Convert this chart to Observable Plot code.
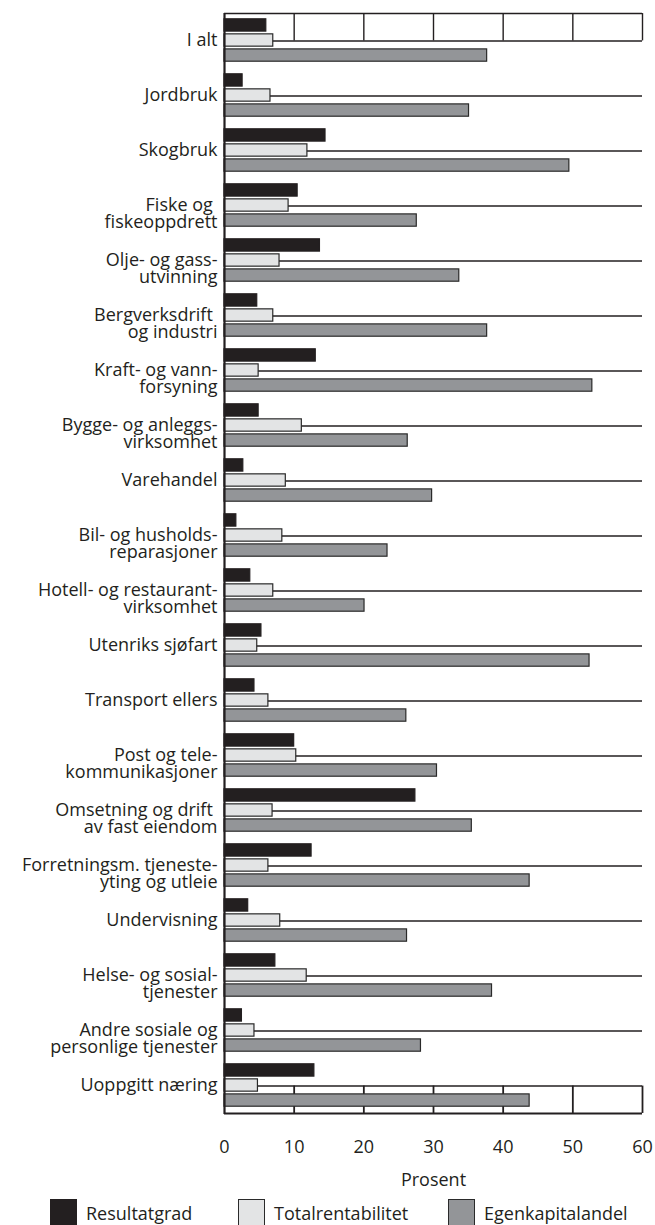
<!DOCTYPE html>
<html><head><meta charset="utf-8">
<script src="https://cdn.jsdelivr.net/npm/d3@7"></script>
<script src="https://cdn.jsdelivr.net/npm/@observablehq/plot@0.6"></script>
<style>
body{margin:0;background:#fff;font-family:"Open Sans",sans-serif;color:#231f20;}
#chart svg{display:block;}
#legend{position:relative;height:30px;width:655px;font-size:18px;}
.item{position:absolute;top:4px;display:flex;align-items:center;height:27px;white-space:nowrap;}
.sw{width:27px;height:27px;box-sizing:border-box;margin-right:9px;}
</style></head><body>
<div id="chart"></div>
<div id="legend"></div>
<script>
const categories = [
  "I alt",
  "Jordbruk",
  "Skogbruk",
  "Fiske og\u00a0\nfiskeoppdrett",
  "Olje- og gass-\nutvinning",
  "Bergverksdrift\u00a0\nog industri",
  "Kraft- og vann-\nforsyning",
  "Bygge- og anleggs-\nvirksomhet",
  "Varehandel",
  "Bil- og husholds-\nreparasjoner",
  "Hotell- og restaurant-\nvirksomhet",
  "Utenriks sjøfart",
  "Transport ellers",
  "Post og tele-\nkommunikasjoner",
  "Omsetning og drift\u00a0\nav fast eiendom",
  "Forretningsm. tjeneste-\nyting og utleie",
  "Undervisning",
  "Helse- og sosial-\ntjenester",
  "Andre sosiale og\npersonlige tjenester",
  "Uoppgitt næring"
];
const series = ["Resultatgrad", "Totalrentabilitet", "Egenkapitalandel"];
const resultatgrad      = [6.0, 2.6, 14.5, 10.5, 13.7, 4.7, 13.1, 4.9, 2.7, 1.7, 3.7, 5.3, 4.3, 10.0, 27.4, 12.5, 3.4, 7.3, 2.5, 12.9];
const totalrentabilitet = [7.0, 6.6, 11.9, 9.2, 7.9, 7.0, 4.9, 11.1, 8.8, 8.3, 7.0, 4.7, 6.3, 10.3, 6.9, 6.3, 8.0, 11.8, 4.3, 4.8];
const egenkapitalandel  = [37.7, 35.1, 49.5, 27.6, 33.7, 37.7, 52.8, 26.3, 29.8, 23.4, 20.1, 52.4, 26.1, 30.5, 35.5, 43.8, 26.2, 38.4, 28.2, 43.8];
const xTicks = [0, 10, 20, 30, 40, 50, 60];
const xLabel = "Prosent";

const colors = ["#231f20", "#e3e4e5", "#939598"];
const values = [resultatgrad, totalrentabilitet, egenkapitalandel];
const rows = categories.flatMap((c, i) => series.map((s, j) => ({category: c, series: s, value: values[j][i]})));

const W = 655, H = 1195, mTop = 13, mBottom = 81, mLeft = 224, mRight = 13;
const pInner = 0.18, pOuter = 0.09;
const yScale = Plot.scale({y: {type: "band", domain: categories, range: [mTop, H - mBottom], paddingInner: pInner, paddingOuter: pOuter}});
const bw = yScale.bandwidth;
const step = yScale.step;
const outerPx = step * pOuter;
const slot = bw / 3;
const ink = "#231f20";

const bars = series.map((s, j) => Plot.barX(rows.filter(d => d.series === s), {
  x: "value", y: "category",
  fill: colors[j], stroke: j === 0 ? colors[0] : "#2a2a2a", strokeWidth: 1.2,
  insetTop: j * slot + 0.8, insetBottom: (2 - j) * slot + 1.8
}));

const plot = Plot.plot({
  width: W, height: H,
  marginTop: mTop, marginBottom: mBottom, marginLeft: mLeft, marginRight: mRight,
  style: {fontFamily: "'Open Sans', sans-serif", fontSize: "18px", color: ink, background: "white"},
  x: {domain: [0, 60], ticks: xTicks, tickSize: 0, tickPadding: 26, label: null},
  y: {domain: categories, paddingInner: pInner, paddingOuter: pOuter, axis: null},
  marks: [
    // vertical grid segments in first and last rows
    Plot.ruleX(xTicks.slice(1), {x: d => d, y1: () => categories[0], y2: () => categories[0], insetTop: -outerPx, insetBottom: bw / 2, stroke: ink, strokeWidth: 1.4, strokeOpacity: 1}),
    Plot.ruleX(xTicks.slice(1), {x: d => d, y1: () => categories[categories.length - 1], y2: () => categories[categories.length - 1], insetTop: bw / 2, insetBottom: -outerPx, stroke: ink, strokeWidth: 1.8, strokeOpacity: 1}),
    // horizontal lines through each category
    Plot.ruleY(categories, {y: d => d, x1: 0, x2: 60, stroke: ink, strokeWidth: 1.3}),
    // top and bottom frame lines
    Plot.ruleY([categories[0]], {y: d => d, x1: 0, x2: 60, dy: -(bw / 2 + outerPx), stroke: ink, strokeWidth: 1.5}),
    Plot.ruleY([categories[categories.length - 1]], {y: d => d, x1: 0, x2: 60, dy: (bw / 2 + outerPx), stroke: ink, strokeWidth: 2}),
    ...bars,
    Plot.ruleX([0], {stroke: ink, strokeWidth: 2.2}),
    Plot.text(categories, {y: d => d, text: d => d, frameAnchor: "left", textAnchor: "end", dx: -7, lineAnchor: "top", dy: -7, lineHeight: 0.95, fill: ink, fontSize: 18}),
    Plot.text([xLabel], {text: d => d, frameAnchor: "bottom", lineAnchor: "middle", dy: 66, fill: ink, fontSize: 18})
  ]
});
document.getElementById("chart").appendChild(plot);

const legend = document.getElementById("legend");
const lefts = [50, 238, 448];
series.forEach((s, j) => {
  const it = document.createElement("div");
  it.className = "item";
  it.style.left = lefts[j] + "px";
  const sw = document.createElement("div");
  sw.className = "sw";
  sw.style.background = colors[j];
  sw.style.border = "1.5px solid " + (j === 0 ? colors[0] : "#2a2a2a");
  const t = document.createElement("span");
  t.textContent = s;
  it.appendChild(sw); it.appendChild(t);
  legend.appendChild(it);
});
</script>
</body></html>
